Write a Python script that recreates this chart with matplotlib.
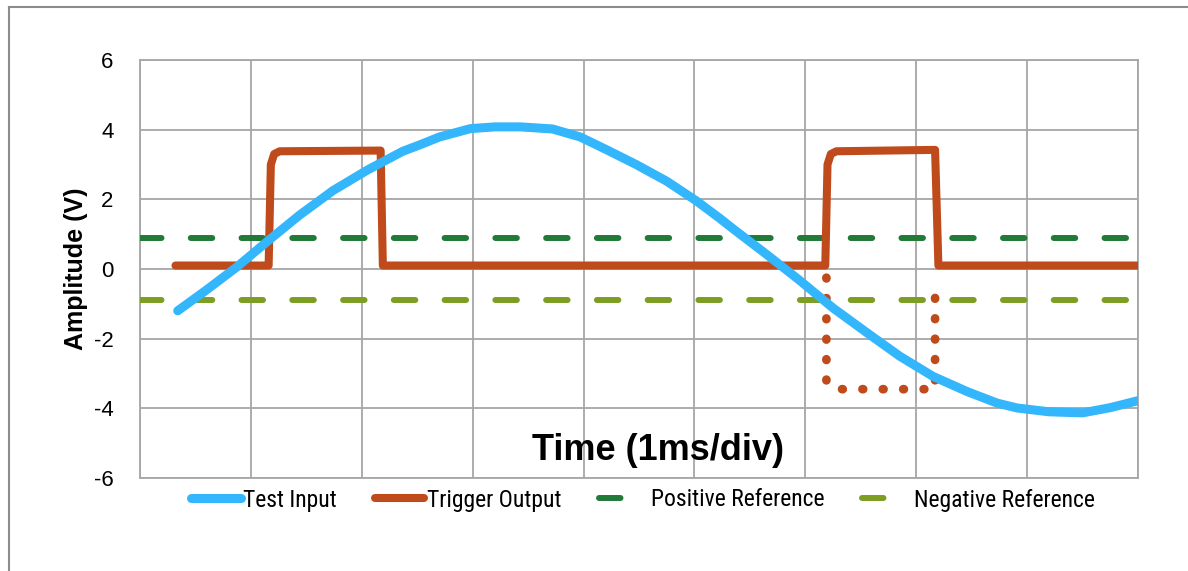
import matplotlib
matplotlib.use("Agg")
import matplotlib.pyplot as plt
from matplotlib import font_manager as fm
from matplotlib.lines import Line2D

# ---- data (x in divisions, 1 ms/div; y in volts) ----
test_x = [0.34, 0.6, 0.87, 1.17, 1.44, 1.74, 2.05, 2.37, 2.52, 2.7, 2.98, 3.2, 3.43,
          3.72, 3.97, 4.21, 4.48, 4.75, 5.02, 5.23, 5.35, 5.65, 5.95, 6.25, 6.56,
          6.85, 7.15, 7.46, 7.73, 7.91, 8.2, 8.5, 8.75, 9.0]
test_v = [-1.2, -0.6, 0.05, 0.85, 1.55, 2.25, 2.84, 3.38, 3.56, 3.79, 4.03, 4.08, 4.08,
          4.02, 3.79, 3.42, 2.99, 2.52, 1.95, 1.45, 1.15, 0.42, -0.33, -1.12, -1.84,
          -2.5, -3.08, -3.52, -3.85, -3.99, -4.1, -4.13, -3.98, -3.78]

trig_x = [0.32, 1.16, 1.18, 1.21, 1.26, 2.17, 2.19, 6.18, 6.2, 6.23, 6.28, 7.17, 7.2, 9.0]
trig_v = [0.1, 0.1, 3.0, 3.3, 3.38, 3.4, 0.1, 0.1, 3.0, 3.3, 3.38, 3.42, 0.1, 0.1]

neg_x = [6.19, 6.19, 6.26, 7.17, 7.17]
neg_v = [-0.25, -3.2, -3.45, -3.45, -0.45]

ref_x = [0.0, 9.0]
pos_ref = [0.9, 0.9]
neg_ref = [-0.9, -0.9]

y_ticks = [-6, -4, -2, 0, 2, 4, 6]
labels = ["Test Input", "Trigger Output", "Positive Reference", "Negative Reference"]

# ---- fonts ----
avail = {f.name for f in fm.fontManager.ttflist}
def pick(cands):
    for c in cands:
        if c in avail:
            return c
    return "DejaVu Sans"
main_font = pick(["Liberation Sans", "Arial", "DejaVu Sans"])
narrow_font = pick(["Liberation Sans Narrow", "Arial Narrow", "Roboto Condensed", "Liberation Sans"])

BLUE = "#33b6fb"
ORANGE = "#bf4b1c"
DGREEN = "#217a38"
OLIVE = "#7c9e22"
GRID = "#a6a6a6"

fig = plt.figure(figsize=(11.88, 5.71), dpi=100)
ax = fig.add_axes([140/1188, (571-478)/571, (1138-140)/1188, (478-60)/571])

ax.plot(ref_x, pos_ref, color=DGREEN, lw=4.3, dashes=(3.6, 4.9), dash_capstyle="round",
        label=labels[2], zorder=3)
ax.plot(ref_x, neg_ref, color=OLIVE, lw=4.3, dashes=(3.6, 4.9), dash_capstyle="round",
        label=labels[3], zorder=3)
ax.plot(neg_x, neg_v, color=ORANGE, lw=6.3, dashes=(0.08, 2.25), dash_capstyle="round",
        solid_joinstyle="round", zorder=4)
ax.plot(trig_x, trig_v, color=ORANGE, lw=5.8, solid_capstyle="round",
        solid_joinstyle="round", label=labels[1], zorder=4)
ax.plot(test_x, test_v, color=BLUE, lw=6.5, solid_capstyle="round",
        solid_joinstyle="round", label=labels[0], zorder=5)

ax.set_xlim(0, 9)
ax.set_ylim(-6, 6)
ax.set_xticks(range(0, 10))
ax.set_xticklabels([])
ax.set_yticks(y_ticks)
ax.set_yticklabels([str(t) for t in y_ticks], fontfamily=main_font, fontsize=16)
ax.tick_params(length=0, pad=19)
ax.grid(True, color=GRID, lw=1.3)
ax.set_axisbelow(True)
for s in ax.spines.values():
    s.set_color(GRID)
    s.set_linewidth(1.3)

ax.set_ylabel("Amplitude (V)", fontfamily=main_font, fontweight="bold", fontsize=18,
              labelpad=4)
ax.text(0.5192, 0.025, "Time (1ms/div)", transform=ax.transAxes, ha="center",
        va="bottom", fontfamily=main_font, fontweight="bold", fontsize=26, zorder=6)

handles, labs = ax.get_legend_handles_labels()
order = [labs.index(l) for l in labels]
leg = fig.legend([handles[i] for i in order], [labs[i] for i in order],
                 loc="center", bbox_to_anchor=(643/1188, (571-500)/571), ncol=4,
                 frameon=False, prop={"family": narrow_font, "size": 17},
                 handlelength=2.1, handletextpad=0.1, columnspacing=1.6,
                 borderaxespad=0)

# outer border (top and left only visible)
fig.add_artist(Line2D([9/1188, 1.0], [(571-7)/571]*2, color="#8c8c8c", lw=1.5))
fig.add_artist(Line2D([9/1188]*2, [0, (571-7)/571], color="#8c8c8c", lw=1.5))

fig.savefig("out.png", dpi=100)
